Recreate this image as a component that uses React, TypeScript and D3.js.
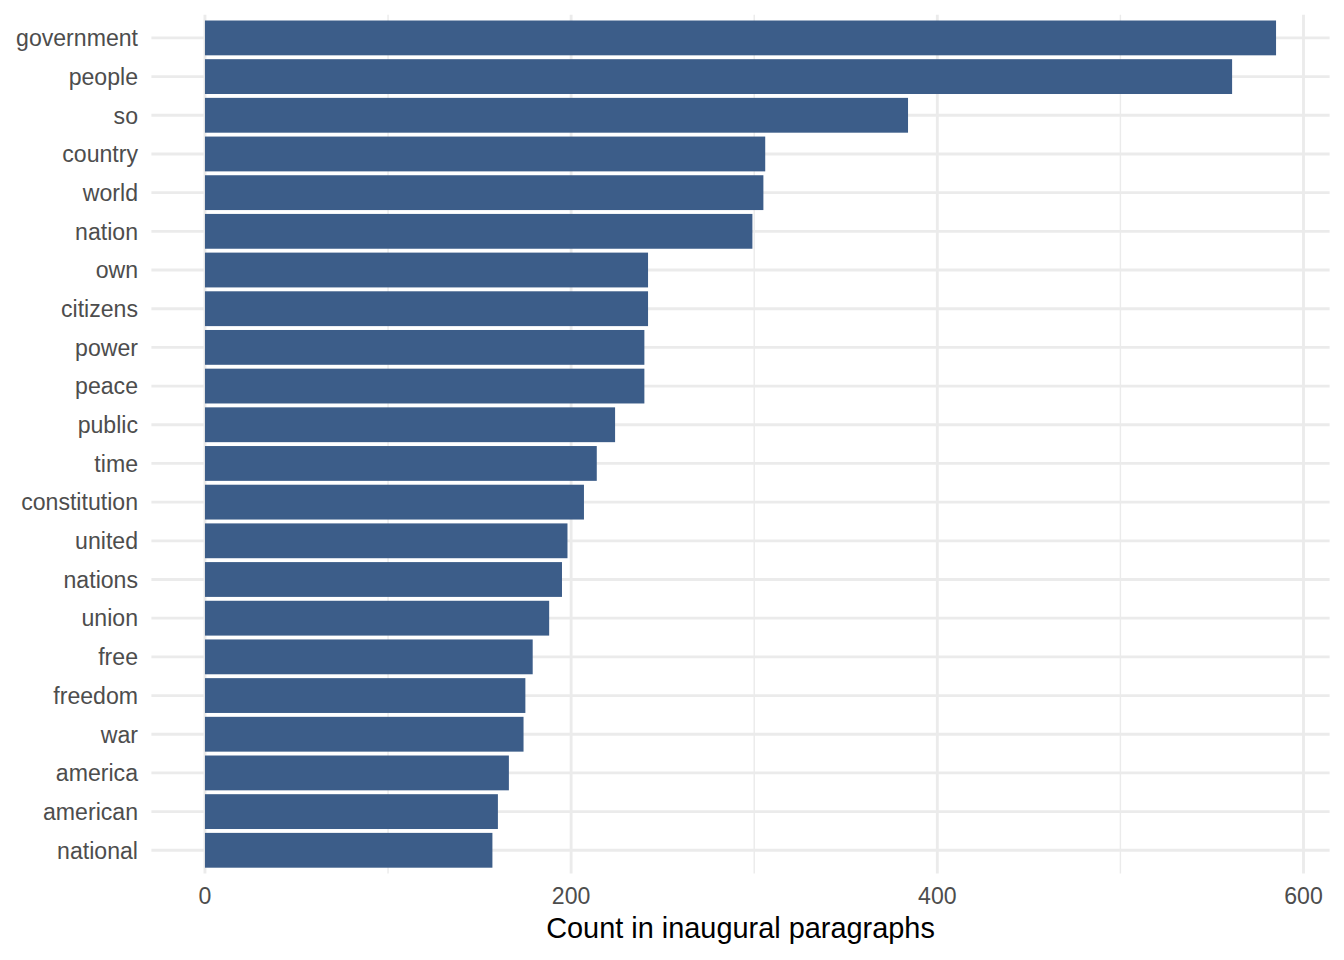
import * as d3 from 'd3';

const words = [
  'government', 'people', 'so', 'country', 'world', 'nation', 'own', 'citizens',
  'power', 'peace', 'public', 'time', 'constitution', 'united', 'nations', 'union',
  'free', 'freedom', 'war', 'america', 'american', 'national',
];
const counts = [
  585, 561, 384, 306, 305, 299, 242, 242, 240, 240, 224, 214, 207, 198, 195, 188,
  179, 175, 174, 166, 160, 157,
];
const majorTicks = [0, 200, 400, 600];
const minorTicks = [100, 300, 500];
const xTitle = 'Count in inaugural paragraphs';

const width = 1344;
const height = 960;
const margin = { top: 14.7, right: 14.4, bottom: 86.5, left: 151.4 };
const font = '"Liberation Sans", Arial, sans-serif';
const barColor = '#3c5d89';
const gridColor = '#ebebeb';

export default function App() {
  const maxCount = d3.max(counts) ?? 0;
  const pad = maxCount * 0.05;

  const x = d3
    .scaleLinear()
    .domain([-pad, maxCount + pad])
    .range([margin.left, width - margin.right]);

  const y = d3
    .scalePoint<string>()
    .domain(words)
    .range([margin.top, height - margin.bottom])
    .padding(0.6);

  const barH = y.step() * 0.9;
  const panelBottom = height - margin.bottom;

  return (
    <svg
      width={width}
      height={height}
      viewBox={`0 0 ${width} ${height}`}
      style={{ display: 'block', position: 'absolute', left: 0, top: 0, background: '#fff' }}
    >
      {minorTicks.map((t) => (
        <line
          key={`minor-${t}`}
          x1={x(t)}
          x2={x(t)}
          y1={margin.top}
          y2={panelBottom}
          stroke={gridColor}
          strokeWidth={1.42}
        />
      ))}
      {majorTicks.map((t) => (
        <line
          key={`major-${t}`}
          x1={x(t)}
          x2={x(t)}
          y1={margin.top}
          y2={panelBottom}
          stroke={gridColor}
          strokeWidth={2.85}
        />
      ))}
      {words.map((w) => (
        <line
          key={`hgrid-${w}`}
          x1={margin.left}
          x2={width - margin.right}
          y1={y(w)}
          y2={y(w)}
          stroke={gridColor}
          strokeWidth={2.85}
        />
      ))}

      {words.map((w, i) => (
        <rect
          key={`bar-${w}`}
          x={x(0)}
          y={(y(w) as number) - barH / 2}
          width={x(counts[i]) - x(0)}
          height={barH}
          fill={barColor}
        />
      ))}

      {words.map((w) => (
        <text
          key={`ylab-${w}`}
          x={138}
          y={y(w)}
          dy="0.36em"
          textAnchor="end"
          fontFamily={font}
          fontSize={23.1}
          fill="#4d4d4d"
        >
          {w}
        </text>
      ))}

      {majorTicks.map((t) => (
        <text
          key={`xlab-${t}`}
          x={x(t)}
          y={904}
          textAnchor="middle"
          fontFamily={font}
          fontSize={23.1}
          fill="#4d4d4d"
        >
          {t}
        </text>
      ))}

      <text
        x={(margin.left + width - margin.right) / 2}
        y={937.7}
        textAnchor="middle"
        fontFamily={font}
        fontSize={28.9}
        fill="#000"
      >
        {xTitle}
      </text>
    </svg>
  );
}
